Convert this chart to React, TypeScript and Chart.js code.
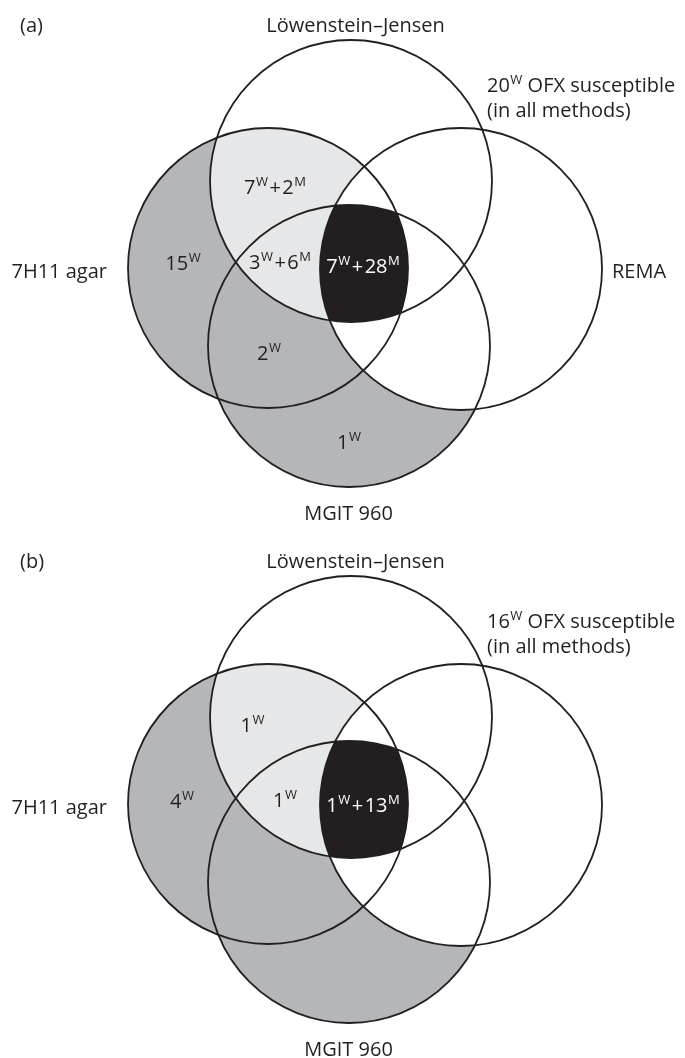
import React, { useEffect, useRef } from "react";
import { Chart, registerables } from "chart.js";

Chart.register(...registerables);

// ---- data ----
const panelTags = ["(a)", "(b)"];
const panelOffsetY = [0, 536];
const setNames = ["Löwenstein–Jensen", "7H11 agar", "REMA", "MGIT 960"];
// which set names are printed in each panel (panel b has no REMA label)
const showRemaLabel = [true, false];
// circle centres / radii (LJ, 7H11, REMA, MGIT) in panel units
const circleX = [351, 268, 461, 349];
const circleY = [181, 268, 269, 346];
const circleR = [141, 140, 141, 141];
const susceptibleCounts = ["20{W} OFX susceptible", "16{W} OFX susceptible"];
const susceptibleNote = "(in all methods)";
// region counts, W = wild type, M = mutant
const regionCountsA = ["15{W}", "7{W}+2{M}", "3{W}+6{M}", "7{W}+28{M}", "2{W}", "1{W}"];
const regionCountsB = ["4{W}", "1{W}", "1{W}", "1{W}+13{M}"];

// ---- layout (panel units: centre x, baseline y) ----
const regionPosA = [
  [183, 270], [275, 194], [280, 268.5], [363, 273], [269, 360], [349, 449],
];
const regionPosB = [
  [182, 271.5], [252.5, 195.5], [285, 271], [363, 275.5],
];
const regionWhiteA = [false, false, false, true, false, false];
const regionWhiteB = [false, false, false, true];

const W = 685;
const H = 1058;
const INK = "#231f20";
const DARK_GRAY = "#b5b6b9";
const LIGHT_GRAY = "#e6e7e9";
const BLACK_FILL = "#231f20";
const MAIN_FONT = '20px "Open Sans"';
const SUP_FONT = '13px "Open Sans"';

type Part = { t: string; sup: boolean; plus: boolean };

function parseRich(s: string): Part[] {
  const parts: Part[] = [];
  const re = /\{([^}]*)\}|([^{]+)/g;
  let m: RegExpExecArray | null;
  while ((m = re.exec(s))) {
    if (m[1] !== undefined) parts.push({ t: m[1], sup: true, plus: false });
    else {
      m[2].split(/(\+)/).forEach((seg) => {
        if (seg.length) parts.push({ t: seg, sup: false, plus: seg === "+" });
      });
    }
  }
  return parts;
}

function drawRich(
  ctx: CanvasRenderingContext2D,
  s: string,
  x: number,
  y: number,
  align: "left" | "center",
  color: string
) {
  const parts = parseRich(s);
  const widths = parts.map((p) => {
    ctx.font = p.sup ? SUP_FONT : MAIN_FONT;
    return ctx.measureText(p.t).width + (p.plus ? 3 : 0) + (p.sup ? 0.5 : 0);
  });
  const total = widths.reduce((a, b) => a + b, 0);
  let cx = align === "center" ? x - total / 2 : x;
  ctx.fillStyle = color;
  ctx.textAlign = "left";
  ctx.textBaseline = "alphabetic";
  parts.forEach((p, i) => {
    ctx.font = p.sup ? SUP_FONT : MAIN_FONT;
    const dx = p.plus ? 1.5 : p.sup ? 0.5 : 0;
    ctx.fillText(p.t, cx + dx, p.sup ? y - 8 : y);
    cx += widths[i];
  });
}

const vennPlugin = {
  id: "venn",
  beforeDraw(chart: any) {
    const ctx = chart.ctx as CanvasRenderingContext2D;
    ctx.save();
    ctx.fillStyle = "#ffffff";
    ctx.fillRect(0, 0, chart.width, chart.height);
    ctx.restore();
  },
  afterDatasetsDraw(chart: any) {
    const ctx = chart.ctx as CanvasRenderingContext2D;
    const xs = chart.scales.x;
    const ys = chart.scales.y;
    const px = (v: number) => xs.getPixelForValue(v);
    const py = (v: number) => ys.getPixelForValue(v);

    panelOffsetY.forEach((off, pi) => {
      const circ = circleX.map((cx, i) => ({
        x: px(cx),
        y: py(circleY[i] + off),
        r: px(cx + circleR[i]) - px(cx),
      }));
      const path = (i: number) => {
        ctx.beginPath();
        ctx.arc(circ[i].x, circ[i].y, circ[i].r, 0, Math.PI * 2);
        ctx.closePath();
      };
      const unionFill = (ids: number[], color: string) => {
        ctx.save();
        ctx.beginPath();
        ids.forEach((i) => {
          ctx.moveTo(circ[i].x + circ[i].r, circ[i].y);
          ctx.arc(circ[i].x, circ[i].y, circ[i].r, 0, Math.PI * 2);
        });
        ctx.fillStyle = color;
        ctx.fill("nonzero");
        ctx.restore();
      };
      const interFill = (ids: number[], color: string) => {
        ctx.save();
        ids.forEach((i) => {
          path(i);
          ctx.clip();
        });
        ctx.fillStyle = color;
        ctx.fillRect(0, 0, chart.width, chart.height);
        ctx.restore();
      };
      // 0 LJ, 1 7H11, 2 REMA, 3 MGIT
      unionFill([1, 3], DARK_GRAY);
      unionFill([0, 2], "#ffffff");
      interFill([0, 1], LIGHT_GRAY);
      interFill([0, 1, 2], "#ffffff");
      interFill([0, 1, 2, 3], BLACK_FILL);

      ctx.save();
      ctx.strokeStyle = INK;
      ctx.lineWidth = 1.8;
      circ.forEach((_, i) => {
        path(i);
        ctx.stroke();
      });
      ctx.restore();

      // texts
      drawRich(ctx, panelTags[pi], px(20), py(31.5 + off), "left", INK);
      drawRich(ctx, setNames[0], px(355.5), py(31.5 + off), "center", INK);
      drawRich(ctx, setNames[1], px(11.5), py(277.5 + off), "left", INK);
      if (showRemaLabel[pi]) drawRich(ctx, setNames[2], px(612), py(277.5 + off), "left", INK);
      drawRich(ctx, setNames[3], px(348.5), py(519.5 + off), "center", INK);
      drawRich(ctx, susceptibleCounts[pi], px(487), py(91.5 + off), "left", INK);
      drawRich(ctx, susceptibleNote, px(487), py(116.5 + off), "left", INK);

      const counts = pi === 0 ? regionCountsA : regionCountsB;
      const pos = pi === 0 ? regionPosA : regionPosB;
      const white = pi === 0 ? regionWhiteA : regionWhiteB;
      counts.forEach((c, i) => {
        drawRich(ctx, c, px(pos[i][0]), py(pos[i][1] + off), "center", white[i] ? "#ffffff" : INK);
      });
    });
  },
};

export default function App() {
  const ref = useRef<HTMLCanvasElement | null>(null);
  useEffect(() => {
    if (!ref.current) return;
    const centres = panelOffsetY.flatMap((off) =>
      circleX.map((x, i) => ({ x, y: circleY[i] + off }))
    );
    const chart = new Chart(ref.current, {
      type: "scatter",
      data: {
        datasets: [
          {
            data: centres,
            pointRadius: 0,
            pointHoverRadius: 0,
            showLine: false,
          },
        ],
      },
      options: {
        animation: false,
        responsive: false,
        maintainAspectRatio: false,
        layout: { padding: 0 },
        events: [],
        plugins: {
          legend: { display: false },
          tooltip: { enabled: false },
        },
        scales: {
          x: { type: "linear", min: 0, max: W, display: false },
          y: { type: "linear", min: 0, max: H, reverse: true, display: false },
        },
      },
      plugins: [vennPlugin],
    });
    return () => chart.destroy();
  }, []);
  return (
    <div style={{ position: "absolute", left: 0, top: 0, width: W, height: H }}>
      <canvas ref={ref} width={W} height={H} style={{ width: W, height: H, display: "block" }} />
    </div>
  );
}
